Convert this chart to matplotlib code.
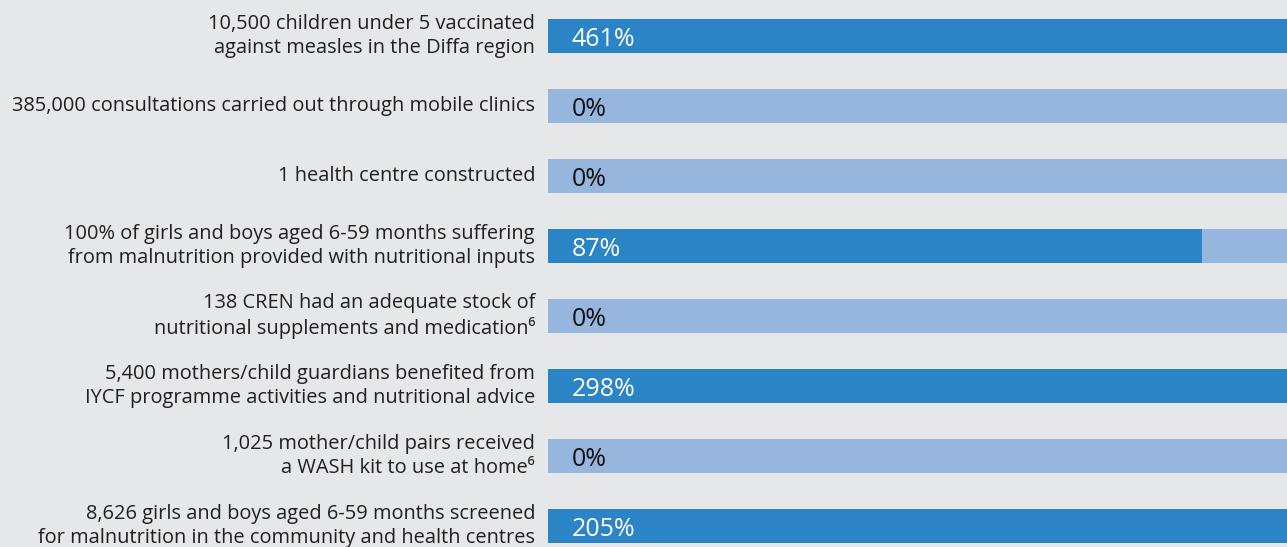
import matplotlib.pyplot as plt
from matplotlib.transforms import blended_transform_factory

# indicator labels and achievement (%)
labels = [
    "10,500 children under 5 vaccinated\nagainst measles in the Diffa region",
    "385,000 consultations carried out through mobile clinics",
    "1 health centre constructed",
    "100% of girls and boys aged 6-59 months suffering\nfrom malnutrition provided with nutritional inputs",
    "138 CREN had an adequate stock of\nnutritional supplements and medication\u2076",
    "5,400 mothers/child guardians benefited from\nIYCF programme activities and nutritional advice",
    "1,025 mother/child pairs received\na WASH kit to use at home\u2076",
    "8,626 girls and boys aged 6-59 months screened\nfor malnutrition in the community and health centres",
]
achieved = [461, 0, 0, 87, 0, 298, 0, 205]

bg = "#e6e7e8"
dark = "#2b84c6"
light = "#96b6de"
plt.rcParams['font.family'] = ['Open Sans', 'DejaVu Sans']

W, H = 1287, 547
fig = plt.figure(figsize=(W / 100, H / 100), dpi=100, facecolor=bg)
ax = fig.add_axes([548 / W, 0, 739 / W, 1])
ax.set_facecolor(bg)

pos = list(range(len(labels)))
filled = [min(v, 100) for v in achieved]
ax.barh(pos, [100] * len(pos), height=34 / 70, color=light, zorder=1)
ax.barh(pos, filled, height=34 / 70, color=dark, zorder=2)

ax.set_xlim(0, 100 * 739 / 752)
ax.set_ylim((H - 36) / 70, -36 / 70)
ax.axis('off')

tr = blended_transform_factory(ax.transAxes, ax.transData)
for i, (lab, v) in enumerate(zip(labels, achieved)):
    ax.text(-13 / 739, i, lab, transform=tr, ha='right', va='center',
            multialignment='right', fontsize=14.4, color='#231f20',
            linespacing=1.22)
    ax.text(24 / 739, i, f"{v}%", transform=tr, ha='left',
            va='center_baseline', fontsize=18,
            color='white' if v > 0 else '#111111', zorder=3)

fig.savefig('out.png', dpi=100, facecolor=bg)
